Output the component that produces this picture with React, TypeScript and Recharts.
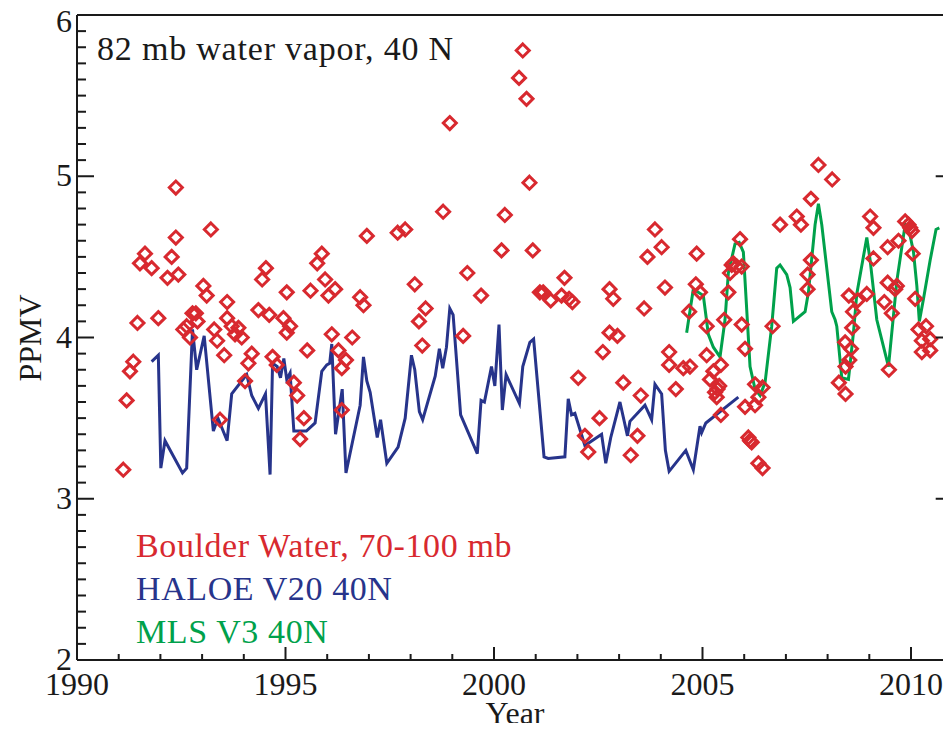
import { ComposedChart, Scatter, Line, XAxis, YAxis } from "recharts";

// Boulder balloon soundings, 70-100 mb: [year, ppmv]
const boulderPts: [number, number][] = [
  [1991.11, 3.18], [1991.19, 3.61], [1991.27, 3.79], [1991.35, 3.85], [1991.45, 4.09],
  [1991.51, 4.46], [1991.63, 4.52], [1991.79, 4.43], [1991.95, 4.12], [1992.17, 4.37],
  [1992.27, 4.5], [1992.37, 4.93], [1992.37, 4.62], [1992.43, 4.39], [1992.55, 4.05],
  [1992.63, 4.07], [1992.71, 4.0], [1992.77, 4.15], [1992.85, 4.15], [1992.89, 4.1],
  [1993.03, 4.32], [1993.11, 4.26], [1993.21, 4.67], [1993.29, 4.05], [1993.36, 3.98],
  [1993.43, 3.49], [1993.53, 3.89], [1993.6, 4.22], [1993.6, 4.12], [1993.71, 4.07],
  [1993.79, 4.02], [1993.87, 4.06], [1993.95, 4.0], [1994.03, 3.73], [1994.11, 3.84],
  [1994.19, 3.9], [1994.35, 4.17], [1994.44, 4.36], [1994.53, 4.43], [1994.61, 4.14],
  [1994.69, 3.88], [1994.79, 3.83], [1994.95, 4.12], [1995.03, 4.28], [1995.03, 4.03],
  [1995.11, 4.07], [1995.2, 3.72], [1995.28, 3.64], [1995.35, 3.37], [1995.44, 3.5],
  [1995.52, 3.92], [1995.6, 4.29], [1995.76, 4.46], [1995.87, 4.52], [1995.95, 4.36],
  [1996.03, 4.26], [1996.11, 4.02], [1996.19, 4.3], [1996.27, 3.92], [1996.35, 3.81],
  [1996.35, 3.55], [1996.45, 3.86], [1996.6, 4.0], [1996.79, 4.25], [1996.87, 4.2],
  [1996.95, 4.63], [1997.69, 4.65], [1997.87, 4.67], [1998.1, 4.33], [1998.2, 4.1],
  [1998.28, 3.95], [1998.36, 4.18], [1998.78, 4.78], [1998.94, 5.33], [1999.26, 4.01],
  [1999.36, 4.4], [1999.69, 4.26], [2000.18, 4.54], [2000.26, 4.76], [2000.6, 5.61],
  [2000.69, 5.78], [2000.78, 5.48], [2000.85, 4.96], [2000.93, 4.54], [2001.1, 4.28],
  [2001.18, 4.28], [2001.36, 4.23], [2001.62, 4.26], [2001.69, 4.37], [2001.8, 4.24],
  [2001.88, 4.22], [2002.02, 3.75], [2002.18, 3.39], [2002.26, 3.29], [2002.53, 3.5],
  [2002.61, 3.91], [2002.77, 4.3], [2002.77, 4.03], [2002.86, 4.24], [2002.96, 4.01],
  [2003.1, 3.72], [2003.28, 3.27], [2003.44, 3.39], [2003.52, 3.64], [2003.6, 4.18],
  [2003.68, 4.5], [2003.86, 4.67], [2004.02, 4.56], [2004.1, 4.31], [2004.2, 3.91],
  [2004.2, 3.83], [2004.36, 3.68], [2004.54, 3.81], [2004.68, 4.16], [2004.7, 3.82],
  [2004.84, 4.33], [2004.86, 4.52], [2004.94, 4.28], [2005.1, 4.07], [2005.1, 3.89],
  [2005.18, 3.74], [2005.26, 3.79], [2005.3, 3.66], [2005.36, 3.68], [2005.34, 3.63],
  [2005.4, 3.7], [2005.44, 3.83], [2005.44, 3.52], [2005.52, 4.11], [2005.62, 4.28],
  [2005.66, 4.4], [2005.7, 4.45], [2005.74, 4.46], [2005.82, 4.44], [2005.9, 4.61],
  [2005.94, 4.44], [2005.94, 4.08], [2006.02, 3.93], [2006.02, 3.57], [2006.1, 3.38],
  [2006.14, 3.36], [2006.18, 3.35], [2006.26, 3.71], [2006.26, 3.58], [2006.34, 3.63],
  [2006.34, 3.22], [2006.44, 3.69], [2006.44, 3.19], [2006.68, 4.07], [2006.86, 4.7],
  [2007.26, 4.75], [2007.36, 4.7], [2007.52, 4.39], [2007.52, 4.3], [2007.6, 4.48],
  [2007.6, 4.86], [2007.78, 5.07], [2008.11, 4.98], [2008.27, 3.72], [2008.42, 3.97],
  [2008.43, 3.82], [2008.43, 3.65], [2008.51, 4.26], [2008.52, 3.86], [2008.56, 3.93],
  [2008.59, 4.06], [2008.61, 4.16], [2008.72, 4.23], [2008.94, 4.27], [2009.02, 4.75],
  [2009.1, 4.68], [2009.1, 4.49], [2009.36, 4.22], [2009.44, 4.56], [2009.44, 4.34],
  [2009.47, 3.8], [2009.54, 4.15], [2009.62, 4.3], [2009.66, 4.32], [2009.7, 4.6],
  [2009.86, 4.72], [2009.94, 4.7], [2009.98, 4.68], [2010.02, 4.66], [2010.04, 4.52],
  [2010.1, 4.24], [2010.18, 4.05], [2010.26, 3.98], [2010.26, 3.91], [2010.36, 4.07],
  [2010.46, 3.99], [2010.46, 3.92],
];

// HALOE V20, 40N
const haloePts: [number, number][] = [
  [1991.79, 3.85], [1991.95, 3.89], [1992.01, 3.19], [1992.11, 3.36], [1992.53, 3.16],
  [1992.63, 3.19], [1992.77, 4.05], [1992.87, 3.8], [1993.05, 4.01], [1993.27, 3.42],
  [1993.38, 3.5], [1993.6, 3.36], [1993.71, 3.65], [1994.07, 3.77], [1994.19, 3.64],
  [1994.35, 3.56], [1994.52, 3.65], [1994.63, 3.15], [1994.69, 3.84], [1994.8, 3.82],
  [1994.88, 3.75], [1994.96, 3.87], [1995.03, 3.74], [1995.11, 3.78], [1995.2, 3.42],
  [1995.5, 3.42], [1995.71, 3.47], [1995.87, 3.79], [1995.99, 3.83], [1996.06, 3.84],
  [1996.11, 3.96], [1996.2, 3.4], [1996.36, 3.68], [1996.45, 3.16], [1996.79, 3.58],
  [1996.87, 3.88], [1996.95, 3.73], [1997.03, 3.66], [1997.2, 3.38], [1997.28, 3.49],
  [1997.43, 3.22], [1997.7, 3.32], [1997.87, 3.5], [1998.02, 3.89], [1998.1, 3.8],
  [1998.21, 3.54], [1998.29, 3.49], [1998.59, 3.76], [1998.69, 3.93], [1998.77, 3.81],
  [1998.86, 3.94], [1998.94, 4.18], [1999.02, 4.14], [1999.2, 3.52], [1999.6, 3.28],
  [1999.69, 3.61], [1999.77, 3.6], [1999.94, 3.82], [2000.02, 3.7], [2000.12, 4.08],
  [2000.2, 3.55], [2000.29, 3.77], [2000.61, 3.59], [2000.69, 3.82], [2000.86, 3.97],
  [2000.95, 3.99], [2001.2, 3.26], [2001.3, 3.25], [2001.7, 3.26], [2001.78, 3.62],
  [2001.86, 3.52], [2001.94, 3.53], [2002.18, 3.33], [2002.58, 3.4], [2002.68, 3.22],
  [2002.8, 3.38], [2003.02, 3.6], [2003.2, 3.39], [2003.26, 3.48], [2003.62, 3.58],
  [2003.78, 3.49], [2003.86, 3.71], [2004.02, 3.65], [2004.11, 3.3], [2004.2, 3.17],
  [2004.6, 3.3], [2004.78, 3.18], [2004.94, 3.45], [2004.98, 3.41], [2005.08, 3.47],
  [2005.86, 3.63],
];

// MLS V3, 40N
const mlsPts: [number, number][] = [
  [2004.62, 4.03], [2004.78, 4.3], [2005.02, 4.26], [2005.14, 4.02], [2005.26, 3.94],
  [2005.42, 3.88], [2005.54, 4.11], [2005.62, 4.4], [2005.78, 4.58], [2005.88, 4.59],
  [2005.98, 4.53], [2006.14, 3.82], [2006.26, 3.68], [2006.38, 3.64], [2006.5, 3.72],
  [2006.66, 4.07], [2006.78, 4.43], [2006.86, 4.45], [2007.02, 4.39], [2007.1, 4.31],
  [2007.18, 4.1], [2007.46, 4.16], [2007.54, 4.28], [2007.7, 4.7], [2007.78, 4.83],
  [2007.86, 4.7], [2008.1, 4.16], [2008.18, 4.11], [2008.22, 4.07], [2008.34, 3.75],
  [2008.5, 3.74], [2008.62, 4.03], [2008.7, 4.27], [2008.94, 4.62], [2009.02, 4.48],
  [2009.18, 4.11], [2009.46, 3.82], [2009.66, 4.35], [2009.86, 4.7], [2009.98, 4.63],
  [2010.06, 4.53], [2010.14, 4.32], [2010.2, 4.1], [2010.3, 4.24], [2010.46, 4.48],
  [2010.6, 4.67], [2010.68, 4.68],
];

const yearTicks = Array.from({ length: 22 }, (_, i) => 1990 + i);
const ppmvTicks = Array.from({ length: 41 }, (_, i) => (20 + i) / 10);

const toXY = (pts: [number, number][]) => pts.map(([x, y]) => ({ x, y }));
const boulder = toXY(boulderPts);
const haloe = toXY(haloePts);
const mls = toXY(mlsPts);

const RED = "#d8292f";
const BLUE = "#27348b";
const GREEN = "#00a14b";
const INK = "#1a1a1a";
const FONT = "'Liberation Serif', 'Times New Roman', serif";

const isMajorYear = (v: number) => v % 5 === 0;
const isMajorPpmv = (v: number) => Math.abs(v - Math.round(v)) < 1e-6;

function BottomTick({ x, y, payload }: any) {
  const major = isMajorYear(payload.value);
  return (
    <g>
      <line x1={x} x2={x} y1={y} y2={y - (major ? 13 : 6)} stroke={INK} strokeWidth={2} />
      {major && (
        <text x={x} y={y + 35} textAnchor="middle" fontSize={32} fontFamily={FONT} fill={INK}>
          {payload.value}
        </text>
      )}
    </g>
  );
}

function TopTick({ x, y, payload }: any) {
  const major = isMajorYear(payload.value);
  return <line x1={x} x2={x} y1={y} y2={y + (major ? 13 : 7)} stroke={INK} strokeWidth={2} />;
}

function LeftTick({ x, y, payload }: any) {
  const major = isMajorPpmv(payload.value);
  const v = Math.round(payload.value);
  // the top label sits a little lower so it stays inside the frame
  const dy = v === 6 ? 17 : 10;
  return (
    <g>
      <line x1={x} x2={x + (major ? 17 : 9)} y1={y} y2={y} stroke={INK} strokeWidth={2} />
      {major && (
        <text x={x - 5} y={y + dy} textAnchor="end" fontSize={32} fontFamily={FONT} fill={INK}>
          {v}
        </text>
      )}
    </g>
  );
}

function RightTick({ x, y, payload }: any) {
  const major = isMajorPpmv(payload.value);
  return <line x1={x} x2={x - (major ? 17 : 9)} y1={y} y2={y} stroke={INK} strokeWidth={2} />;
}

function Diamond({ cx, cy }: any) {
  const r = 6.5;
  return (
    <path
      d={`M${cx},${cy - r}L${cx + r},${cy}L${cx},${cy + r}L${cx - r},${cy}Z`}
      fill="none"
      stroke={RED}
      strokeWidth={3}
    />
  );
}

const axisLine = { stroke: INK, strokeWidth: 2 };

export default function App() {
  return (
    <div style={{ margin: -8, width: 951, height: 731, overflow: "hidden", background: "#fff" }}>
      <ComposedChart width={960} height={731} margin={{ top: 14, right: 6.3, bottom: 0, left: 0 }}>
        <XAxis
          dataKey="x"
          type="number"
          domain={[1990, 2011]}
          ticks={yearTicks}
          interval={0}
          allowDataOverflow
          height={71}
          tickSize={0}
          tickMargin={0}
          tickLine={false}
          axisLine={axisLine}
          tick={<BottomTick />}
        />
        <XAxis
          xAxisId="top"
          orientation="top"
          type="number"
          domain={[1990, 2011]}
          ticks={yearTicks}
          interval={0}
          allowDataOverflow
          height={1}
          tickSize={0}
          tickMargin={0}
          tickLine={false}
          axisLine={axisLine}
          tick={<TopTick />}
        />
        <YAxis
          dataKey="y"
          type="number"
          domain={[2, 6]}
          ticks={ppmvTicks}
          interval={0}
          allowDataOverflow
          width={77}
          tickSize={0}
          tickMargin={0}
          tickLine={false}
          axisLine={axisLine}
          tick={<LeftTick />}
        />
        <YAxis
          yAxisId="right"
          orientation="right"
          type="number"
          domain={[2, 6]}
          ticks={ppmvTicks}
          interval={0}
          allowDataOverflow
          width={1}
          tickSize={0}
          tickMargin={0}
          tickLine={false}
          axisLine={axisLine}
          tick={<RightTick />}
        />
        <Line
          data={haloe}
          dataKey="y"
          type="linear"
          stroke={BLUE}
          strokeWidth={3}
          dot={false}
          activeDot={false}
          isAnimationActive={false}
        />
        <Line
          data={mls}
          dataKey="y"
          type="linear"
          stroke={GREEN}
          strokeWidth={3}
          dot={false}
          activeDot={false}
          isAnimationActive={false}
        />
        <Scatter data={boulder} dataKey="y" shape={<Diamond />} isAnimationActive={false} />
        <text x={97} y={60} fontSize={34} letterSpacing={0.8} fontFamily={FONT} fill={INK}>
          82 mb water vapor, 40 N
        </text>
        <text x={136} y={557} fontSize={34} letterSpacing={0.6} fontFamily={FONT} fill={RED}>
          Boulder Water, 70-100 mb
        </text>
        <text x={136} y={600} fontSize={34} letterSpacing={0.6} fontFamily={FONT} fill={BLUE}>
          HALOE V20 40N
        </text>
        <text x={136} y={643} fontSize={34} letterSpacing={0.6} fontFamily={FONT} fill={GREEN}>
          MLS V3 40N
        </text>
        <text x={515} y={724} textAnchor="middle" fontSize={32} fontFamily={FONT} fill={INK}>
          Year
        </text>
        <text
          x={41}
          y={338}
          transform="rotate(-90 41 338)"
          textAnchor="middle"
          fontSize={32}
          fontFamily={FONT}
          fill={INK}
        >
          PPMV
        </text>
      </ComposedChart>
    </div>
  );
}
